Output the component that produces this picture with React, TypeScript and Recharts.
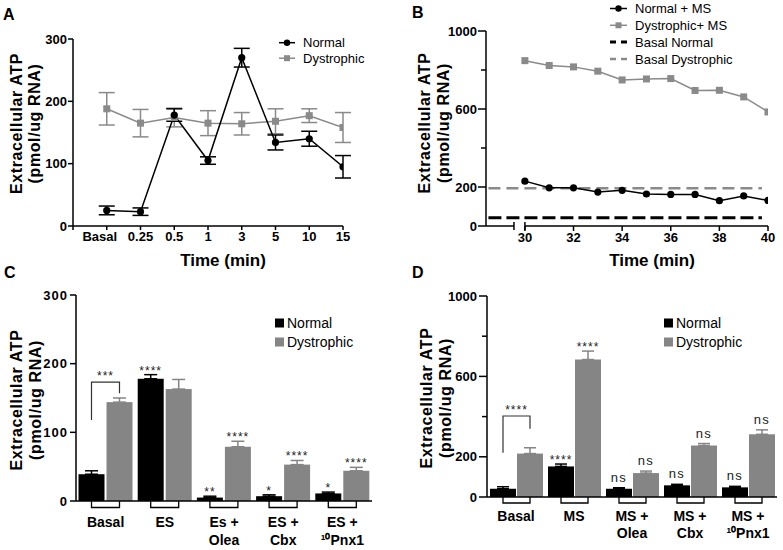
import React from 'react';
import { LineChart, Line, BarChart, Bar, XAxis, YAxis, ErrorBar, ReferenceLine, Legend } from 'recharts';

const FONT = '"Liberation Sans", Arial, Helvetica, sans-serif';
const BLACK = '#000000';
const GREY = '#8a8a8a';
const BAR_GREY = '#858585';

// ---------- shared text ----------
const yTitleLines = ['Extracellular ATP', '(pmol/ug RNA)'];
const xTitle = 'Time (min)';
const panelLetters = ['A', 'B', 'C', 'D'];

// ---------- Panel A ----------
const timeLabelsA = ['Basal', '0.25', '0.5', '1', '3', '5', '10', '15'];
const normalA = [25, 23, 178, 105, 270, 134, 140, 95];
const normalErrA = [7, 6, 10, 6, 15, 12, 12, 18];
const dystrophicA = [188, 165, 174, 165, 164, 168, 177, 158];
const dystrophicErrA = [26, 22, 15, 20, 18, 20, 11, 24];
const yTicksA = [0, 100, 200, 300];
const xTicksA = [-1, 0, 1, 2, 3, 4, 5, 6, 7];
const legendA = ['Normal', 'Dystrophic'];

// ---------- Panel B ----------
const minutesB = [30, 31, 32, 33, 34, 35, 36, 37, 38, 39, 40];
const normalMSB = [230, 196, 196, 174, 183, 164, 162, 162, 130, 154, 131];
const dystrophicMSB = [848, 823, 816, 794, 749, 754, 756, 695, 696, 662, 585];
const basalNormalB = 42;
const basalDystrophicB = 193;
const xDomainB = [28.4, 40];
const axisBreakB = [29.55, 30];
const basalSpanB = [28.5, 39.75];
const xTicksB = [30, 32, 34, 36, 38, 40];
const yTicksB = [0, 200, 400, 600, 800, 1000];
const yLabeledB = [0, 200, 600, 1000];
const legendB = ['Normal + MS', 'Dystrophic+ MS', 'Basal Normal', 'Basal Dystrophic'];

// ---------- Panel C ----------
const groupsC = ['Basal', 'ES', 'Es +\nOlea', 'ES +\nCbx', 'ES +\n\u00B9\u2070Pnx1'];
const normalC = [39, 178, 5, 7, 11];
const normalErrC = [5, 6, 2, 2, 2];
const dystrophicC = [144, 163, 79, 53, 44];
const dystrophicErrC = [6, 14, 8, 6, 5];
const normalSigC = ['', '****', '**', '*', '*'];
const dystrophicSigC = ['', '', '****', '****', '****'];
const bracketC = { from: 118, top: 173, to: 157, label: '***' };
const yTicksC = [0, 100, 200, 300];

// ---------- Panel D ----------
const groupsD = ['Basal', 'MS', 'MS +\nOlea', 'MS +\nCbx', 'MS +\n\u00B9\u2070Pnx1'];
const normalD = [41, 152, 41, 58, 48];
const normalErrD = [10, 12, 5, 5, 5];
const dystrophicD = [216, 684, 119, 256, 312];
const dystrophicErrD = [29, 42, 10, 10, 22];
const normalSigD = ['', '****', 'ns', 'ns', 'ns'];
const dystrophicSigD = ['', '****', 'ns', 'ns', 'ns'];
const bracketD = { from: 220, top: 403, to: 340, label: '****' };
const yTicksD = [0, 200, 400, 600, 800, 1000];
const yLabeledD = [0, 200, 600, 1000];
const legendCD = ['Normal', 'Dystrophic'];

// ---------- data tables ----------
const rowsA = timeLabelsA.map((_, i) => ({
  t: i,
  normal: normalA[i],
  normalErr: normalErrA[i],
  dystrophic: dystrophicA[i],
  dystrophicErr: dystrophicErrA[i],
}));

const rowsB = minutesB.map((m, i) => ({ m, normal: normalMSB[i], dystrophic: dystrophicMSB[i] }));

const makeRows = (groups: string[], n: number[], nE: number[], d: number[], dE: number[], nS: string[], dS: string[]) =>
  groups.map((g, i) => ({
    group: g,
    normal: n[i],
    normalErr: [0, nE[i]],
    dystrophic: d[i],
    dystrophicErr: [0, dE[i]],
    normalSig: nS[i],
    dystrophicSig: dS[i],
  }));

const rowsC = makeRows(groupsC, normalC, normalErrC, dystrophicC, dystrophicErrC, normalSigC, dystrophicSigC);
const rowsD = makeRows(groupsD, normalD, normalErrD, dystrophicD, dystrophicErrD, normalSigD, dystrophicSigD);

// ---------- helpers ----------
const axisStyle = { stroke: BLACK, strokeWidth: 1.5 };

const makeYTick = (labeled: number[] | null, majorLen: number, minorLen: number, gap: number, fontSize: number, spacing = 0) => (p: any) => {
  const { x, y, payload } = p;
  const v = payload.value;
  const isMajor = !labeled || labeled.includes(v);
  const len = isMajor ? majorLen : minorLen;
  return (
    <g>
      <line x1={x - len} y1={y} x2={x} y2={y} stroke={BLACK} strokeWidth={1.5} />
      {isMajor && (
        <text x={x - len - gap} y={y} dy="0.36em" textAnchor="end" fontSize={fontSize} fontWeight="bold" fill={BLACK} letterSpacing={spacing}>
          {v}
        </text>
      )}
    </g>
  );
};

const makeXTickLine = (labelFor: (v: number) => string, len: number, fontSize: number, shiftFirst = 0, firstValue = 0) => (p: any) => {
  const { x, y, payload } = p;
  const v = payload.value;
  const lab = labelFor(v);
  return (
    <g>
      <line x1={x} y1={y} x2={x} y2={y + len} stroke={BLACK} strokeWidth={1.5} />
      {lab && (
        <text x={x + (v === firstValue ? shiftFirst : 0)} y={y + len + 2} dy="0.72em" textAnchor="middle" fontSize={fontSize} fontWeight="bold" fill={BLACK}>
          {lab}
        </text>
      )}
    </g>
  );
};

const makeXTickBar = (first: number, lineGap: number, fontSize: number) => (p: any) => {
  const { x, y, payload } = p;
  const lines = String(payload.value).split('\n');
  return (
    <text x={x} y={y + first} textAnchor="middle" fontSize={fontSize} fontWeight="bold" fill={BLACK}>
      {lines.map((l, i) => (
        <tspan key={i} x={x} dy={i === 0 ? 0 : lineGap}>
          {l}
        </tspan>
      ))}
    </text>
  );
};

const YTitle = ({ px, py }: { px: number; py: number }) => (
  <text transform={`translate(${px},${py}) rotate(-90)`} textAnchor="middle" fontSize={16} fontWeight="bold" fill={BLACK} letterSpacing={0.6}>
    <tspan x={0} y={0}>{yTitleLines[0]}</tspan>
    <tspan x={0} y={18.5}>{yTitleLines[1]}</tspan>
  </text>
);

const XTitle = ({ px, py }: { px: number; py: number }) => (
  <text x={px} y={py} textAnchor="middle" fontSize={17} fontWeight="bold" fill={BLACK}>
    {xTitle}
  </text>
);

const squareDot = (color: string, size: number) => (p: any) => (
  <rect key={`sq-${p.index}`} x={p.cx - size / 2} y={p.cy - size / 2} width={size} height={size} fill={color} />
);

type LegendEntry = { name: string; kind: 'circle' | 'square' | 'dash' | 'box'; color: string; w?: number };

const LegendSvg = ({ entries, width, height, y0, rowH, m0, m1, textX, fontSize }: any) => (
  <svg width={width} height={height} style={{ display: 'block', overflow: 'visible' }}>
    {entries.map((e: LegendEntry, i: number) => {
      const cy = y0 + i * rowH;
      const mid = (m0 + m1) / 2;
      let mark: React.ReactNode;
      if (e.kind === 'circle') {
        mark = (
          <g>
            <line x1={m0} y1={cy} x2={m1} y2={cy} stroke={e.color} strokeWidth={1.5} />
            <circle cx={mid} cy={cy} r={3.2} fill={e.color} />
          </g>
        );
      } else if (e.kind === 'square') {
        mark = (
          <g>
            <line x1={m0} y1={cy} x2={m1} y2={cy} stroke={e.color} strokeWidth={1.5} />
            <rect x={mid - 3} y={cy - 3} width={6} height={6} fill={e.color} />
          </g>
        );
      } else if (e.kind === 'dash') {
        mark = <line x1={m0} y1={cy} x2={m1} y2={cy} stroke={e.color} strokeWidth={e.w || 2.5} strokeDasharray="6 5" />;
      } else {
        mark = <rect x={m0} y={cy - 4.5} width={9} height={9} fill={e.color} />;
      }
      return (
        <g key={e.name}>
          {mark}
          <text x={textX} y={cy} dy="0.36em" fontSize={fontSize} fill={BLACK} fontFamily={FONT}>
            {e.name}
          </text>
        </g>
      );
    })}
  </svg>
);

const legendEntriesA: LegendEntry[] = [
  { name: legendA[0], kind: 'circle', color: BLACK },
  { name: legendA[1], kind: 'square', color: GREY },
];
const legendEntriesB: LegendEntry[] = [
  { name: legendB[0], kind: 'circle', color: BLACK },
  { name: legendB[1], kind: 'square', color: GREY },
  { name: legendB[2], kind: 'dash', color: BLACK, w: 3 },
  { name: legendB[3], kind: 'dash', color: GREY, w: 2.5 },
];
const legendEntriesCD: LegendEntry[] = [
  { name: legendCD[0], kind: 'box', color: BLACK },
  { name: legendCD[1], kind: 'box', color: BAR_GREY },
];

type Bracket = { from: number; top: number; to: number; label: string };

const makeBarShape = (o: {
  fill: string;
  valueKey: string;
  errKey: string;
  sigKey: string;
  gap: number;
  side: 'normal' | 'dys';
  uDepth: number;
  bracket?: Bracket;
}) => (p: any) => {
  const { x, y, width, height, payload, index } = p;
  const v = payload[o.valueKey];
  const base = y + height;
  const ppu = v ? height / v : 0;
  const yv = (val: number) => base - val * ppu;
  const err = payload[o.errKey][1];
  const sig = payload[o.sigKey];
  const cx = x + width / 2;
  const els: React.ReactNode[] = [<rect key="r" x={x} y={y} width={width} height={height} fill={o.fill} />];
  if (sig) {
    const isNs = sig === 'ns';
    els.push(
      <text key="s" x={cx} y={yv(v + err) - (isNs ? 6 : 0)} textAnchor="middle" fontSize={isNs ? 13 : 12} letterSpacing={isNs ? 1.5 : 1} fill="#222">
        {sig}
      </text>
    );
  }
  if (o.side === 'normal') {
    const cx2 = cx + width + o.gap;
    els.push(<path key="u" d={`M${cx},${base}V${base + o.uDepth}H${cx2}V${base}`} fill="none" stroke={BLACK} strokeWidth={1.3} />);
  }
  if (o.side === 'dys' && index === 0 && o.bracket) {
    const b = o.bracket;
    const lx = cx - width - o.gap;
    els.push(<path key="b" d={`M${lx},${yv(b.from)}V${yv(b.top)}H${cx}V${yv(b.to)}`} fill="none" stroke="#333" strokeWidth={1.2} />);
    els.push(
      <text key="bl" x={(lx + cx) / 2} y={yv(b.top) - 2} textAnchor="middle" fontSize={12} letterSpacing={1} fill="#222">
        {b.label}
      </text>
    );
  }
  return <g>{els}</g>;
};

// ---------- Panels ----------
const ChartA = () => (
  <LineChart width={390} height={270} data={rowsA} margin={{ top: 39, right: 47, bottom: 14, left: 23 }}>
    <XAxis
      type="number"
      dataKey="t"
      domain={[-1, 7]}
      ticks={xTicksA}
      interval={0}
      allowDataOverflow
      height={30}
      tickSize={0}
      tickMargin={0}
      tickLine={false}
      axisLine={axisStyle}
      tick={makeXTickLine((v) => (v >= 0 ? timeLabelsA[v] : ''), 4, 13, -7, 0)}
      label={<XTitle px={223} py={266} />}
    />
    <YAxis
      domain={[0, 300]}
      ticks={yTicksA}
      interval={0}
      width={50}
      tickSize={0}
      tickMargin={0}
      tickLine={false}
      axisLine={axisStyle}
      tick={makeYTick(null, 5, 5, 1, 13)}
      label={<YTitle px={21.5} py={123.5} />}
    />
    <Line dataKey="dystrophic" stroke={GREY} strokeWidth={1.5} dot={squareDot(GREY, 7)} activeDot={false} isAnimationActive={false}>
      <ErrorBar dataKey="dystrophicErr" width={8} stroke={GREY} strokeWidth={1.5} direction="y" />
    </Line>
    <Line dataKey="normal" stroke={BLACK} strokeWidth={1.5} dot={{ r: 3.6, fill: BLACK, stroke: BLACK, strokeWidth: 0 }} activeDot={false} isAnimationActive={false}>
      <ErrorBar dataKey="normalErr" width={8} stroke={BLACK} strokeWidth={1.5} direction="y" />
    </Line>
    <Legend
      layout="vertical"
      align="center"
      verticalAlign="middle"
      wrapperStyle={{ left: 275, top: 34, width: 110, height: 34 }}
      content={() => <LegendSvg entries={legendEntriesA} width={110} height={34} y0={8.7} rowH={15.5} m0={4} m1={20} textX={28} fontSize={13} />}
    />
  </LineChart>
);

const ChartB = () => (
  <LineChart width={393} height={270} data={rowsB} margin={{ top: 31, right: 15, bottom: 14, left: 46 }}>
    <XAxis
      type="number"
      dataKey="m"
      domain={xDomainB}
      ticks={xTicksB}
      interval={0}
      allowDataOverflow
      height={30}
      tickSize={0}
      tickMargin={0}
      tickLine={false}
      axisLine={false}
      tick={makeXTickLine((v) => String(v), 5, 13)}
      label={<XTitle px={262} py={266} />}
    />
    <YAxis
      domain={[0, 1000]}
      ticks={yTicksB}
      interval={0}
      width={50}
      tickSize={0}
      tickMargin={0}
      tickLine={false}
      axisLine={axisStyle}
      tick={makeYTick(yLabeledB, 8, 5, 1, 13)}
      label={<YTitle px={40} py={123} />}
    />
    <ReferenceLine segment={[{ x: xDomainB[0], y: 0 }, { x: axisBreakB[0], y: 0 }]} stroke={BLACK} strokeWidth={1.5} ifOverflow="visible" />
    <ReferenceLine segment={[{ x: axisBreakB[1], y: 0 }, { x: xDomainB[1], y: 0 }]} stroke={BLACK} strokeWidth={1.5} ifOverflow="visible" />
    <ReferenceLine segment={[{ x: axisBreakB[0], y: -21 }, { x: axisBreakB[0], y: 21 }]} stroke={BLACK} strokeWidth={1.5} ifOverflow="visible" />
    <ReferenceLine segment={[{ x: axisBreakB[1], y: -21 }, { x: axisBreakB[1], y: 21 }]} stroke={BLACK} strokeWidth={1.5} ifOverflow="visible" />
    <ReferenceLine segment={[{ x: basalSpanB[0], y: basalNormalB }, { x: basalSpanB[1], y: basalNormalB }]} stroke={BLACK} strokeWidth={3} strokeDasharray="13 5" ifOverflow="visible" />
    <ReferenceLine segment={[{ x: basalSpanB[0], y: basalDystrophicB }, { x: basalSpanB[1], y: basalDystrophicB }]} stroke={GREY} strokeWidth={2.5} strokeDasharray="12 6" ifOverflow="visible" />
    <Line dataKey="dystrophic" stroke={GREY} strokeWidth={1.5} dot={squareDot(GREY, 7)} activeDot={false} isAnimationActive={false} />
    <Line dataKey="normal" stroke={BLACK} strokeWidth={1.5} dot={{ r: 3.6, fill: BLACK, stroke: BLACK, strokeWidth: 0 }} activeDot={false} isAnimationActive={false} />
    <Legend
      layout="vertical"
      align="center"
      verticalAlign="middle"
      wrapperStyle={{ left: 215, top: 0, width: 170, height: 68 }}
      content={() => <LegendSvg entries={legendEntriesB} width={170} height={68} y0={8.5} rowH={16.8} m0={5} m1={22} textX={30} fontSize={13} />}
    />
  </LineChart>
);

const BarPanel = ({
  rows,
  groups,
  yTicks,
  yMax,
  yTick,
  margin,
  xHeight,
  catGap,
  barGap,
  firstLine,
  errW,
  bracket,
  uDepth,
  titleX,
  titleY,
  legendLeft,
  width,
}: any) => (
  <BarChart width={width} height={280} data={rows} margin={margin} barCategoryGap={catGap} barGap={barGap}>
    <XAxis
      dataKey="group"
      interval={0}
      height={xHeight}
      tickSize={0}
      tickMargin={0}
      tickLine={false}
      axisLine={axisStyle}
      tick={makeXTickBar(firstLine, 17.5, 14)}
    />
    <YAxis
      domain={[0, yMax]}
      ticks={yTicks}
      interval={0}
      width={50}
      tickSize={0}
      tickMargin={0}
      tickLine={false}
      axisLine={axisStyle}
      tick={yTick}
      label={<YTitle px={titleX} py={titleY} />}
    />
    <Bar
      dataKey="normal"
      fill={BLACK}
      isAnimationActive={false}
      shape={makeBarShape({ fill: BLACK, valueKey: 'normal', errKey: 'normalErr', sigKey: 'normalSig', gap: barGap, side: 'normal', uDepth })}
    >
      <ErrorBar dataKey="normalErr" width={errW} stroke={BLACK} strokeWidth={1.5} direction="y" />
    </Bar>
    <Bar
      dataKey="dystrophic"
      fill={BAR_GREY}
      isAnimationActive={false}
      shape={makeBarShape({ fill: BAR_GREY, valueKey: 'dystrophic', errKey: 'dystrophicErr', sigKey: 'dystrophicSig', gap: barGap, side: 'dys', uDepth, bracket })}
    >
      <ErrorBar dataKey="dystrophicErr" width={errW} stroke={BAR_GREY} strokeWidth={1.5} direction="y" />
    </Bar>
    <Legend
      layout="vertical"
      align="center"
      verticalAlign="middle"
      wrapperStyle={{ left: legendLeft, top: 45, width: 110, height: 40 }}
      content={() => <LegendSvg entries={legendEntriesCD} width={110} height={40} y0={8} rowH={19} m0={3} m1={12} textX={15} fontSize={14} />}
    />
  </BarChart>
);

export default function App() {
  return (
    <div
      style={{
        position: 'absolute',
        left: 0,
        top: 0,
        width: 783,
        height: 550,
        background: '#ffffff',
        fontFamily: FONT,
        overflow: 'hidden',
      }}
    >
      <div style={{ position: 'absolute', left: 0, top: 0 }}>
        <ChartA />
      </div>
      <div style={{ position: 'absolute', left: 390, top: 0 }}>
        <ChartB />
      </div>
      <div style={{ position: 'absolute', left: 0, top: 270 }}>
        <BarPanel
          rows={rowsC}
          groups={groupsC}
          yTicks={yTicksC}
          yMax={300}
          yTick={makeYTick(null, 6, 6, 2, 13, 1)}
          margin={{ top: 25, right: 18, bottom: 9, left: 26 }}
          xHeight={40}
          catGap={2.5}
          barGap={2}
          firstLine={26}
          errW={6.5}
          bracket={bracketC}
          uDepth={6.5}
          titleX={22}
          titleY={130}
          legendLeft={272}
          width={390}
        />
      </div>
      <div style={{ position: 'absolute', left: 390, top: 270 }}>
        <BarPanel
          rows={rowsD}
          groups={groupsD}
          yTicks={yTicksD}
          yMax={1000}
          yTick={makeYTick(yLabeledD, 8, 5, 2, 13)}
          margin={{ top: 26, right: 6, bottom: 9, left: 47 }}
          xHeight={44}
          catGap={3}
          barGap={1}
          firstLine={23.5}
          errW={6}
          bracket={bracketD}
          uDepth={6}
          titleX={42}
          titleY={128}
          legendLeft={271}
          width={393}
        />
      </div>
      <svg width={783} height={550} style={{ position: 'absolute', left: 0, top: 0, pointerEvents: 'none' }}>
        <text x={3} y={19.5} fontSize={16} fontWeight="bold" fill={BLACK}>{panelLetters[0]}</text>
        <text x={412} y={17.5} fontSize={16} fontWeight="bold" fill={BLACK}>{panelLetters[1]}</text>
        <text x={4} y={277.5} fontSize={16} fontWeight="bold" fill={BLACK}>{panelLetters[2]}</text>
        <text x={412} y={278} fontSize={16} fontWeight="bold" fill={BLACK}>{panelLetters[3]}</text>
      </svg>
    </div>
  );
}
